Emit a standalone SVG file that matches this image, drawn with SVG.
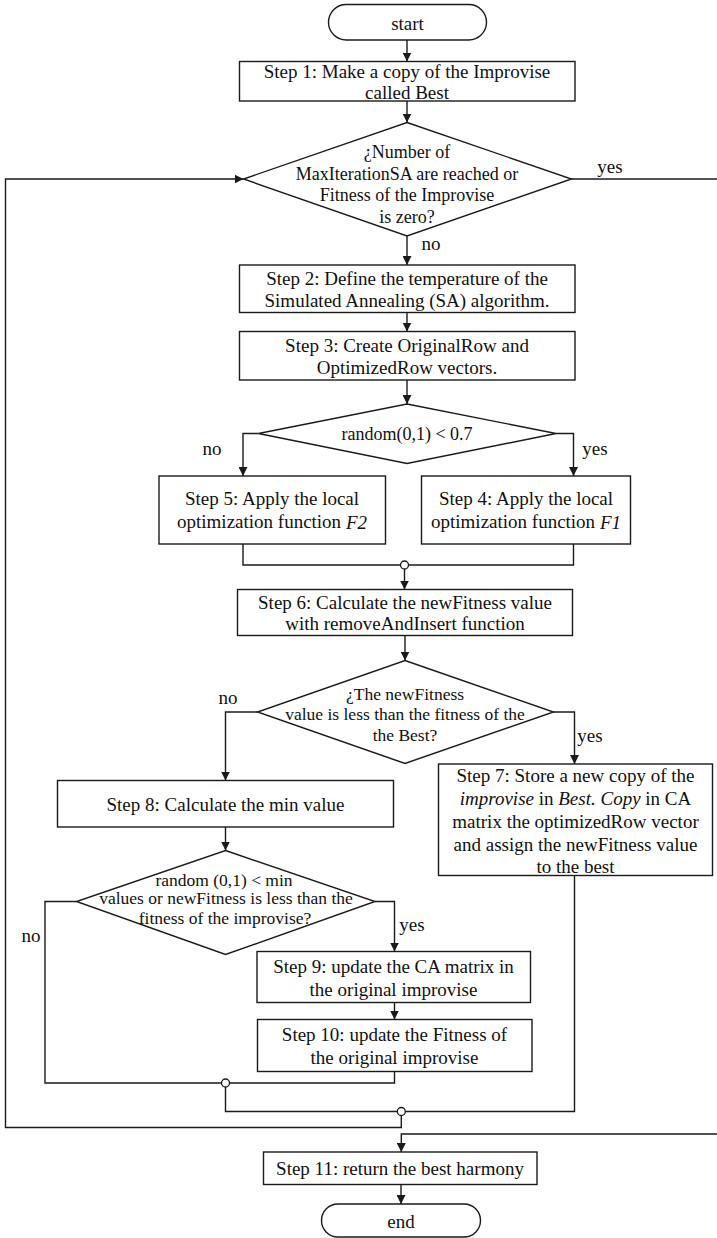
<svg xmlns="http://www.w3.org/2000/svg" width="717" height="1238" viewBox="0 0 717 1238">
<style>
  .shape { fill: #ffffff; stroke: #1a1a1a; stroke-width: 1.4; }
  .line { fill: none; stroke: #1a1a1a; stroke-width: 1.4; }
  .arrow { fill: none; stroke: #1a1a1a; stroke-width: 1.4; marker-end: url(#ah); }
  .junction { fill: #ffffff; stroke: #1a1a1a; stroke-width: 1.3; }
  text { font-family: "Liberation Serif", "Times New Roman", serif; fill: #111111; dominant-baseline: central; }
  .t { font-size: 19px; text-anchor: middle; }
  .d { font-size: 18px; text-anchor: middle; }
  .ds { font-size: 17.5px; text-anchor: middle; }
  .lbl { font-size: 19px; text-anchor: middle; }
  .i { font-style: italic; }
</style>
<defs>
  <marker id="ah" viewBox="0 0 10 10" refX="10" refY="5" markerWidth="9" markerHeight="9" markerUnits="userSpaceOnUse" orient="auto">
    <path d="M0,0 L10,5 L0,10 z" fill="#1a1a1a"/>
  </marker>
</defs>
<rect width="717" height="1238" fill="#ffffff"/>

<g id="connectors">
  <path class="arrow" d="M407,40 L407,61.5"/>
  <path class="arrow" d="M407,101 L407,122.5"/>
  <path class="line" d="M571.5,179 L717,179"/>
  <path class="arrow" d="M407,236 L407,265"/>
  <path class="arrow" d="M407,312.5 L407,331.5"/>
  <path class="arrow" d="M407,380 L407,404"/>
  <path class="arrow" d="M258.5,433.5 L243,433.5 L243,476"/>
  <path class="arrow" d="M556,433.5 L573.5,433.5 L573.5,476"/>
  <path class="line" d="M243,544 L243,565 L573.5,565 L573.5,544"/>
  <path class="arrow" d="M404.5,569 L404.5,589.5"/>
  <path class="arrow" d="M405,635.5 L405,660.5"/>
  <path class="arrow" d="M257.5,712 L225.5,712 L225.5,780.5"/>
  <path class="arrow" d="M553.5,712 L574.5,712 L574.5,764"/>
  <path class="arrow" d="M225.5,827 L225.5,850.5"/>
  <path class="line" d="M76.5,901.5 L45,901.5 L45,1083 L221.5,1083"/>
  <path class="arrow" d="M375,901.5 L394.5,901.5 L394.5,951.5"/>
  <path class="arrow" d="M394.5,1002.5 L394.5,1019.5"/>
  <path class="line" d="M394.5,1071.5 L394.5,1083 L229.5,1083"/>
  <path class="line" d="M225.5,1087 L225.5,1111.5 L397.3,1111.5"/>
  <path class="line" d="M574.5,875.5 L574.5,1111.5 L405.3,1111.5"/>
  <path class="arrow" d="M401.3,1115.5 L401.3,1127.5 L5.5,1127.5 L5.5,179 L243.5,179"/>
  <path class="arrow" d="M717,1134 L401.3,1134 L401.3,1152"/>
  <path class="arrow" d="M401,1184.5 L401,1204"/>
  <circle class="junction" cx="404.5" cy="565" r="4"/>
  <circle class="junction" cx="225.5" cy="1083" r="4"/>
  <circle class="junction" cx="401.3" cy="1111.5" r="4"/>
  <text class="lbl" x="610" y="166">yes</text>
  <text class="lbl" x="431" y="243">no</text>
  <text class="lbl" x="212" y="448">no</text>
  <text class="lbl" x="595" y="448">yes</text>
  <text class="lbl" x="228" y="697">no</text>
  <text class="lbl" x="590" y="735">yes</text>
  <text class="lbl" x="31" y="935">no</text>
  <text class="lbl" x="412" y="924">yes</text>
</g>

<g id="start">
  <rect class="shape" x="328.5" y="4.5" width="158" height="35.5" rx="17.75"/>
  <text class="t" x="407.5" y="23">start</text>
</g>

<g id="step1">
  <rect class="shape" x="239.5" y="61.5" width="335.5" height="39.5"/>
  <text class="t" x="407" y="71">Step 1: Make a copy of the Improvise</text>
  <text class="t" x="407" y="92">called Best</text>
</g>

<g id="decision1">
  <polygon class="shape" points="407,122.5 571.5,179 407,236 243.5,179"/>
  <text class="d" x="407" y="152">¿Number of</text>
  <text class="d" x="407" y="173.5">MaxIterationSA are reached or</text>
  <text class="d" x="407" y="195">Fitness of the Improvise</text>
  <text class="d" x="407" y="216.5">is zero?</text>
</g>

<g id="step2">
  <rect class="shape" x="239.5" y="265" width="335.5" height="47.5"/>
  <text class="t" x="407" y="278.5">Step 2: Define the temperature of the</text>
  <text class="t" x="407" y="300.5">Simulated Annealing (SA) algorithm.</text>
</g>

<g id="step3">
  <rect class="shape" x="239.5" y="331.5" width="335.5" height="48.5"/>
  <text class="t" x="407" y="345">Step 3: Create OriginalRow and</text>
  <text class="t" x="407" y="367">OptimizedRow vectors.</text>
</g>

<g id="decision2">
  <polygon class="shape" points="407,404 556,433.5 407,463.5 258.5,433.5"/>
  <text class="d" x="407" y="433.5">random(0,1) &lt; 0.7</text>
</g>

<g id="step5">
  <rect class="shape" x="159" y="476" width="226.5" height="68"/>
  <text class="t" x="272" y="498.5">Step 5: Apply the local</text>
  <text class="t" x="272" y="521.5">optimization function <tspan class="i">F2</tspan></text>
</g>

<g id="step4">
  <rect class="shape" x="421.5" y="476" width="209" height="68"/>
  <text class="t" x="526" y="498.5">Step 4: Apply the local</text>
  <text class="t" x="526" y="521.5">optimization function <tspan class="i">F1</tspan></text>
</g>

<g id="step6">
  <rect class="shape" x="237.5" y="589.5" width="335" height="46"/>
  <text class="t" x="405" y="602">Step 6: Calculate the newFitness value</text>
  <text class="t" x="405" y="623.5">with removeAndInsert function</text>
</g>

<g id="decision3">
  <polygon class="shape" points="405,660.5 553.5,712 405,763.5 257.5,712"/>
  <text class="ds" x="405" y="693.5">¿The newFitness</text>
  <text class="ds" x="405" y="714">value is less than the fitness of the</text>
  <text class="ds" x="405" y="735">the Best?</text>
</g>

<g id="step7">
  <rect class="shape" x="438.5" y="764" width="274" height="111.5"/>
  <text class="t" x="575.5" y="775">Step 7: Store a new copy of the</text>
  <text class="t" x="575.5" y="798"><tspan class="i">improvise</tspan> in <tspan class="i">Best. Copy</tspan> in CA</text>
  <text class="t" x="575.5" y="821.5">matrix the optimizedRow vector</text>
  <text class="t" x="575.5" y="844">and assign the newFitness value</text>
  <text class="t" x="575.5" y="866.5">to the best</text>
</g>

<g id="step8">
  <rect class="shape" x="57.5" y="780.5" width="336" height="46.5"/>
  <text class="t" x="225.5" y="804">Step 8: Calculate the min value</text>
</g>

<g id="decision4">
  <polygon class="shape" points="225.5,850.5 375,901.5 225.5,954.5 76.5,901.5"/>
  <text class="ds" x="224" y="879.5">random (0,1) &lt; min</text>
  <text class="ds" x="226" y="898">values or newFitness is less than the</text>
  <text class="ds" x="225" y="918">fitness of the improvise?</text>
</g>

<g id="step9">
  <rect class="shape" x="257" y="951.5" width="273.5" height="51"/>
  <text class="t" x="393.5" y="966.5">Step 9: update the CA matrix in</text>
  <text class="t" x="393.5" y="989.5">the original improvise</text>
</g>

<g id="step10">
  <rect class="shape" x="257.5" y="1019.5" width="274.5" height="52"/>
  <text class="t" x="394.5" y="1034">Step 10: update the Fitness of</text>
  <text class="t" x="394.5" y="1057.5">the original improvise</text>
</g>

<g id="step11">
  <rect class="shape" x="263.5" y="1152" width="273.5" height="32.5"/>
  <text class="t" x="400" y="1168.5">Step 11: return the best harmony</text>
</g>

<g id="end">
  <rect class="shape" x="321.5" y="1204" width="159" height="33" rx="16.5"/>
  <text class="t" x="401" y="1221.5">end</text>
</g>
</svg>
